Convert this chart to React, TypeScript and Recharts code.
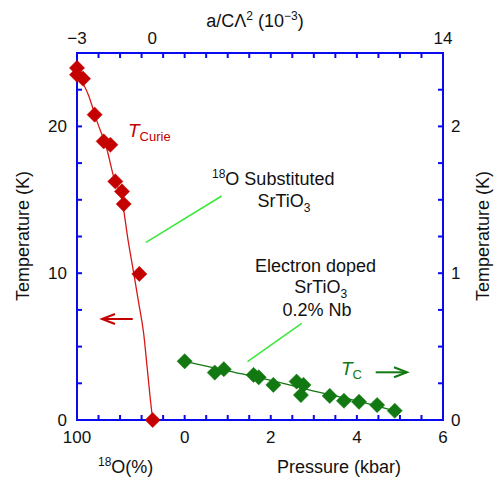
import React from 'react';
import { ComposedChart, Scatter, XAxis, YAxis } from 'recharts';

// ---- Data ----
// 18O substituted SrTiO3: Curie temperature (left axis, K) vs 18O content (%)
const o18Percent = [100, 100, 94.4, 83.6, 75.2, 69.0, 64.4, 58.2, 56.6, 42.1, 29.7];
const curieTemp = [23.98, 23.52, 23.25, 20.8, 18.98, 18.75, 16.25, 15.57, 14.71, 9.95, 0];

// Curie fit curve
const fitO18 = [96.3, 89.5, 81.4, 72.1, 66.0, 58.2, 52.6, 47.3, 42.7, 38.1, 34.9, 31.8, 29.7];
const fitCurie = [23.18, 22.16, 20.34, 18.41, 16.59, 15.0, 12.27, 10.0, 7.98, 5.91, 3.63, 1.36, 0];

// Electron doped SrTiO3 0.2% Nb: Tc (right axis, K) vs pressure (kbar)
const pressure = [0, 0.7, 0.91, 1.6, 1.72, 2.06, 2.6, 2.76, 2.7, 3.37, 3.7, 4.05, 4.47, 4.88];
const tcValues = [0.4, 0.323, 0.346, 0.307, 0.291, 0.239, 0.262, 0.239, 0.17, 0.164, 0.131, 0.124, 0.102, 0.063];

// Tc fit line
const fitPressure = [0, 1, 2, 3, 4, 4.9];
const fitTc = [0.4, 0.335, 0.27, 0.197, 0.13, 0.06];

// Ticks
const bottomTicks = [-2.5, -2, -1.5, -1, -0.5, 0, 0.5, 1, 1.5, 2, 2.5, 3, 3.5, 4, 4.5, 5, 5.5, 6];
const bottomLabels = ['100', '', '', '', '', '0', '', '', '', '2', '', '', '', '4', '', '', '', '6'];
const topTicks = [-3, -2, -1, 0, 1, 2, 3, 4, 5, 6, 7, 8, 9, 10, 11, 12, 13, 14];
const topLabels = ['\u22123', '', '', '0', '', '', '', '', '', '', '', '', '', '', '', '', '', '14'];
const leftTicks = [0, 2.5, 5, 7.5, 10, 12.5, 15, 17.5, 20, 22.5, 25];
const leftLabels = ['0', '', '', '', '10', '', '', '', '20', '', ''];
const rightTicks = [0, 0.25, 0.5, 0.75, 1, 1.25, 1.5, 1.75, 2, 2.25, 2.5];
const rightLabels = ['0', '', '', '', '1', '', '', '', '2', '', ''];

const redPoints = o18Percent.map((o, i) => ({ o18: o, t: curieTemp[i] }));
const redFit = fitO18.map((o, i) => ({ o18: o, t: fitCurie[i] }));
const greenPoints = pressure.map((p, i) => ({ p, tc: tcValues[i] }));
const greenFit = fitPressure.map((p, i) => ({ p, tc: fitTc[i] }));

const BLUE = '#0a0aee';
const RED = '#c40000';
const GREEN = '#127812';
const LEADER = '#3ae83a';
const FONT = '"Liberation Sans", Arial, Helvetica, sans-serif';
const TICK_LEN = 5;

const W = 494;
const H = 481;
const MARGIN = { top: 23, right: 11, bottom: 31, left: 37 };
const AXIS_W = 40;
const AXIS_H = 30;
const PLOT_LEFT = MARGIN.left + AXIS_W;
const PLOT_TOP = MARGIN.top + AXIS_H;
const PLOT_RIGHT = W - MARGIN.right - AXIS_W;
const PLOT_BOTTOM = H - MARGIN.bottom - AXIS_H;

const findLabel = (ticks: number[], labels: string[], v: number) => {
  const i = ticks.findIndex((t) => Math.abs(t - v) < 1e-6);
  return i >= 0 ? labels[i] : '';
};

const BottomTick = (props: any) => {
  const { x, payload } = props;
  const y = PLOT_BOTTOM;
  const label = findLabel(bottomTicks, bottomLabels, payload.value);
  return (
    <g>
      <line x1={x} x2={x} y1={y} y2={y - TICK_LEN} stroke={BLUE} strokeWidth={2} />
      {label ? (
        <text x={x} y={y + 23} textAnchor="middle" fontSize={17} fontFamily={FONT} fill="#111">
          {label}
        </text>
      ) : null}
    </g>
  );
};

const TopTick = (props: any) => {
  const { x, payload } = props;
  const y = PLOT_TOP;
  const label = findLabel(topTicks, topLabels, payload.value);
  const shift = payload.value === 0 ? 10.7 : 0;
  return (
    <g>
      <line x1={x} x2={x} y1={y} y2={y + TICK_LEN} stroke={BLUE} strokeWidth={2} />
      {label ? (
        <text x={x + shift} y={y - 9} textAnchor="middle" fontSize={17} fontFamily={FONT} fill="#111">
          {label}
        </text>
      ) : null}
    </g>
  );
};

const LeftTick = (props: any) => {
  const { y, payload } = props;
  const x = PLOT_LEFT;
  const label = findLabel(leftTicks, leftLabels, payload.value);
  return (
    <g>
      <line x1={x} x2={x + TICK_LEN} y1={y} y2={y} stroke={BLUE} strokeWidth={2} />
      {label ? (
        <text x={x - 10} y={y + 6} textAnchor="end" fontSize={17} fontFamily={FONT} fill="#111">
          {label}
        </text>
      ) : null}
    </g>
  );
};

const RightTick = (props: any) => {
  const { y, payload } = props;
  const x = PLOT_RIGHT;
  const label = findLabel(rightTicks, rightLabels, payload.value);
  return (
    <g>
      <line x1={x} x2={x - TICK_LEN} y1={y} y2={y} stroke={BLUE} strokeWidth={2} />
      {label ? (
        <text x={x + 8} y={y + 6} textAnchor="start" fontSize={17} fontFamily={FONT} fill="#111">
          {label}
        </text>
      ) : null}
    </g>
  );
};

const Diamond = (color: string) => (props: any) => {
  const { cx, cy } = props;
  const r = 7.6;
  return (
    <polygon
      points={`${cx},${cy - r} ${cx + r},${cy} ${cx},${cy + r} ${cx - r},${cy}`}
      fill={color}
      stroke={color}
      strokeWidth={0.5}
    />
  );
};

const NoShape = () => <g />;

const Frame = () => (
  <svg width={W} height={H} style={{ position: 'absolute', left: 0, top: 0 }}>
    <rect
      x={PLOT_LEFT}
      y={PLOT_TOP}
      width={PLOT_RIGHT - PLOT_LEFT}
      height={PLOT_BOTTOM - PLOT_TOP}
      fill="none"
      stroke={BLUE}
      strokeWidth={2}
    />
  </svg>
);

const Overlay = () => (
  <svg
    width={W}
    height={H}
    style={{ position: 'absolute', left: 0, top: 0, pointerEvents: 'none' }}
    fontFamily={FONT}
  >
    {/* axis titles */}
    <text x={255} y={26.7} textAnchor="middle" fontSize={18} fill="#111">
      <tspan>a/C{'\u039B'}</tspan>
      <tspan fontSize={12} dy={-7}>2</tspan>
      <tspan dy={7}> (10</tspan>
      <tspan fontSize={12} dy={-7}>{'\u2212'}3</tspan>
      <tspan dy={7}>)</tspan>
    </text>
    <text
      x={23}
      y={236}
      textAnchor="middle"
      dominantBaseline="central"
      fontSize={18}
      fill="#111"
      transform="rotate(-90 23 236)"
    >
      Temperature (K)
    </text>
    <text
      x={483}
      y={236}
      textAnchor="middle"
      dominantBaseline="central"
      fontSize={18}
      fill="#111"
      transform="rotate(-90 483 236)"
    >
      Temperature (K)
    </text>
    <text x={98} y={473} fontSize={18} fill="#111">
      <tspan fontSize={12} dy={-7}>18</tspan>
      <tspan dy={7}>O(%)</tspan>
    </text>
    <text x={339} y={473} textAnchor="middle" fontSize={18} fill="#111">
      Pressure (kbar)
    </text>

    {/* T_Curie */}
    <text x={128} y={137} fill={RED}>
      <tspan fontSize={19} fontStyle="italic">T</tspan>
      <tspan fontSize={13} dy={4}>Curie</tspan>
    </text>

    {/* 18O Substituted SrTiO3 */}
    <text x={212} y={185} fontSize={18} fill="#111">
      <tspan fontSize={12} dy={-7}>18</tspan>
      <tspan dy={7}>O Substituted</tspan>
    </text>
    <text x={284} y={207} fontSize={18} fill="#111" textAnchor="middle">
      <tspan>SrTiO</tspan>
      <tspan fontSize={12} dy={5}>3</tspan>
    </text>
    <line x1={221.7} y1={196} x2={146} y2={242.3} stroke={LEADER} strokeWidth={1.5} />

    {/* Electron doped */}
    <text x={315.5} y={272} fontSize={18} fill="#111" textAnchor="middle">
      Electron doped
    </text>
    <text x={320.7} y={293} fontSize={18} fill="#111" textAnchor="middle">
      <tspan>SrTiO</tspan>
      <tspan fontSize={12} dy={5}>3</tspan>
    </text>
    <text x={317} y={316} fontSize={18} fill="#111" textAnchor="middle">
      0.2% Nb
    </text>
    <line x1={301.7} y1={323.3} x2={247.5} y2={361.7} stroke={LEADER} strokeWidth={1.5} />

    {/* T_C */}
    <text x={341} y={375} fill={GREEN}>
      <tspan fontSize={19} fontStyle="italic">T</tspan>
      <tspan fontSize={13} dy={4}>C</tspan>
    </text>

    {/* arrows */}
    <g stroke={GREEN} strokeWidth={2} fill="none">
      <line x1={375.7} y1={372.3} x2={407} y2={372.3} />
      <polyline points="394,367.3 407,372.3 394,377.3" />
    </g>
    <g stroke={RED} strokeWidth={2} fill="none">
      <line x1={132.7} y1={319} x2={102} y2={319} />
      <polyline points="115,314 102,319 115,324" />
    </g>
  </svg>
);

export default function App() {
  return (
    <div style={{ position: 'absolute', left: 0, top: 0, width: W, height: H, background: '#fff' }}>
      <Frame />
      <ComposedChart width={W} height={H} margin={MARGIN}>
        <XAxis
          xAxisId="p"
          dataKey="p"
          type="number"
          orientation="bottom"
          domain={[-2.5, 6]}
          ticks={bottomTicks}
          interval={0}
          height={AXIS_H}
          tickSize={0}
          tickMargin={0}
          tickLine={false}
          axisLine={false}
          tick={<BottomTick />}
        />
        <XAxis xAxisId="o" dataKey="o18" type="number" domain={[-240, 100]} reversed hide />
        <XAxis
          xAxisId="t"
          dataKey="a"
          type="number"
          orientation="top"
          domain={[-3, 14]}
          ticks={topTicks}
          interval={0}
          allowDataOverflow
          height={AXIS_H}
          tickSize={0}
          tickMargin={0}
          tickLine={false}
          axisLine={false}
          tick={<TopTick />}
        />
        <YAxis
          yAxisId="l"
          dataKey="t"
          type="number"
          orientation="left"
          domain={[0, 25]}
          ticks={leftTicks}
          interval={0}
          width={AXIS_W}
          tickSize={0}
          tickMargin={0}
          tickLine={false}
          axisLine={false}
          tick={<LeftTick />}
        />
        <YAxis
          yAxisId="r"
          dataKey="tc"
          type="number"
          orientation="right"
          domain={[0, 2.5]}
          ticks={rightTicks}
          interval={0}
          width={AXIS_W}
          tickSize={0}
          tickMargin={0}
          tickLine={false}
          axisLine={false}
          tick={<RightTick />}
        />
        <Scatter
          data={redFit}
          xAxisId="o"
          yAxisId="l"
          line={{ stroke: '#d81818', strokeWidth: 1.3 }}
          lineJointType="monotoneX"
          shape={NoShape}
          isAnimationActive={false}
        />
        <Scatter
          data={greenFit}
          xAxisId="p"
          yAxisId="r"
          line={{ stroke: GREEN, strokeWidth: 1.3 }}
          lineJointType="monotoneX"
          shape={NoShape}
          isAnimationActive={false}
        />
        <Scatter data={redPoints} xAxisId="o" yAxisId="l" shape={Diamond(RED)} isAnimationActive={false} />
        <Scatter data={greenPoints} xAxisId="p" yAxisId="r" shape={Diamond(GREEN)} isAnimationActive={false} />
      </ComposedChart>
      <Overlay />
    </div>
  );
}
